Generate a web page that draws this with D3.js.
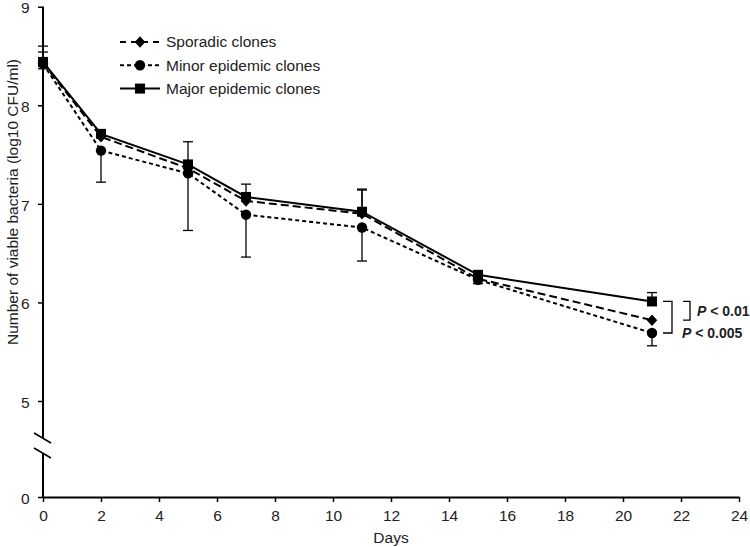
<!DOCTYPE html>
<html><head><meta charset="utf-8">
<script src="https://cdn.jsdelivr.net/npm/d3@7"></script>
<style>body{margin:0;background:#fff;} svg{display:block;font-family:"Liberation Sans",Arial,sans-serif;}</style>
</head><body>
<svg id="c" width="750" height="547"></svg>
<script>
const days = [0, 2, 5, 7, 11, 15, 21];
const sporadic = [8.43, 7.68, 7.36, 7.03, 6.90, 6.24, 5.82];
const minor = [8.42, 7.54, 7.31, 6.89, 6.76, 6.23, 5.69];
const major = [8.44, 7.71, 7.40, 7.07, 6.92, 6.28, 6.01];
const majorErrUp = [0.16, 0, 0.23, 0.13, 0.23, 0.04, 0.09];
const sporadicErrUp = [0.11, 0, 0, 0, 0.24, 0.03, 0];
const minorErrDown = [0.05, 0.32, 0.58, 0.43, 0.34, 0.04, 0.13];
const xTicks = [0, 2, 4, 6, 8, 10, 12, 14, 16, 18, 20, 22, 24];
const yTicks = [0, 5, 6, 7, 8, 9];
const seriesNames = ["Sporadic clones", "Minor epidemic clones", "Major epidemic clones"];
const pLabels = ["P < 0.01", "P < 0.005"];

const svg = d3.select("#c");
const x = d3.scaleLinear().domain([0, 24]).range([43, 739]);
const y = d3.scaleLinear().domain([0, 5, 9]).range([497, 401, 6.7]);
const FONT = "Liberation Sans, Arial, sans-serif";

const wideDiamond = {
  draw(ctx, size) {
    const r = Math.sqrt(size) / 2;
    ctx.moveTo(0, -r * 1.1); ctx.lineTo(r, 0); ctx.lineTo(0, r * 1.1); ctx.lineTo(-r, 0); ctx.closePath();
  }
};

// axes
const xAxis = d3.axisBottom(x).tickValues(xTicks).tickSize(5).tickSizeOuter(0).tickFormat(d3.format("d"));
const gx = svg.append("g").attr("transform", `translate(0,${y(0)})`).call(xAxis);
gx.select(".domain").attr("stroke", "#000").attr("stroke-width", 2);
gx.selectAll(".tick line").attr("stroke-width", 1.5);
gx.selectAll(".tick text").attr("font-size", 15.5).attr("dy", "1.0em").attr("fill", "#222").style("font-family", FONT);

const yAxis = d3.axisLeft(y).tickValues(yTicks).tickSize(5).tickSizeOuter(0).tickFormat(d3.format("d"));
const gy = svg.append("g").attr("transform", `translate(${x(0)},0)`).call(yAxis);
gy.select(".domain").remove();
gy.selectAll(".tick line").attr("stroke-width", 1.5);
gy.selectAll(".tick text").attr("font-size", 15.5).attr("dx", "-0.35em").attr("dy", "0.4em").attr("fill", "#222").style("font-family", FONT);
// y axis line with break
const x0 = x(0);
svg.append("line").attr("x1", x0).attr("x2", x0).attr("y1", y(9)).attr("y2", 438).attr("stroke", "#000").attr("stroke-width", 2);
svg.append("line").attr("x1", x0).attr("x2", x0).attr("y1", 453).attr("y2", y(0)).attr("stroke", "#000").attr("stroke-width", 2);
[433, 448].forEach(yy => {
  svg.append("line").attr("x1", x0 - 9).attr("x2", x0 + 8).attr("y1", yy).attr("y2", yy + 10).attr("stroke", "#000").attr("stroke-width", 1.5);
});

// axis titles
svg.append("text").attr("x", x(12)).attr("y", 543).attr("text-anchor", "middle").attr("font-size", 15.5).attr("fill", "#222").text("Days");
svg.append("text").attr("transform", "translate(13,202) rotate(-90)").attr("text-anchor", "middle").attr("dy", "0.35em").attr("font-size", 15.5).attr("fill", "#222").text("Number of viable bacteria (log10 CFU/ml)");

// error bars
function errBars(vals, errs, dir) {
  const cap = 5;
  days.forEach((d, i) => {
    if (!errs[i]) return;
    const v0 = vals[i], v1 = vals[i] + dir * errs[i];
    const g = svg.append("g").attr("stroke", "#000").attr("stroke-width", 1.3);
    g.append("line").attr("x1", x(d)).attr("x2", x(d)).attr("y1", y(v0)).attr("y2", y(v1));
    g.append("line").attr("x1", x(d) - cap).attr("x2", x(d) + cap).attr("y1", y(v1)).attr("y2", y(v1));
  });
}
errBars(major, majorErrUp, 1);
errBars(sporadic, sporadicErrUp, 1);
errBars(minor, minorErrDown, -1);

// lines
const line = d3.line().x((d, i) => x(days[i])).y(d => y(d));
const series = [
  {vals: minor, dash: "4,3", sym: d3.symbolCircle, size: 85},
  {vals: sporadic, dash: "8,4", sym: wideDiamond, size: 110},
  {vals: major, dash: null, sym: d3.symbolSquare, size: 100}
];
series.forEach(s => {
  svg.append("path").datum(s.vals).attr("d", line).attr("fill", "none").attr("stroke", "#000").attr("stroke-width", 2).attr("stroke-dasharray", s.dash);
});
series.forEach(s => {
  svg.selectAll(null).data(s.vals).enter().append("path")
    .attr("d", d3.symbol().type(s.sym).size(s.size))
    .attr("transform", (d, i) => `translate(${x(days[i])},${y(d)})`).attr("fill", "#000");
});

// legend
const leg = [
  {name: seriesNames[0], dash: "6,5", sym: wideDiamond, size: 110},
  {name: seriesNames[1], dash: "4,3", sym: d3.symbolCircle, size: 85},
  {name: seriesNames[2], dash: null, sym: d3.symbolSquare, size: 100}
];
leg.forEach((l, i) => {
  const yy = 42 + i * 23.3;
  svg.append("line").attr("x1", 120).attr("x2", 160).attr("y1", yy).attr("y2", yy).attr("stroke", "#000").attr("stroke-width", 2).attr("stroke-dasharray", l.dash);
  svg.append("path").attr("d", d3.symbol().type(l.sym).size(l.size)).attr("transform", `translate(140,${yy})`).attr("fill", "#000");
  svg.append("text").attr("x", 166).attr("y", yy).attr("dy", "0.35em").attr("font-size", 15.5).attr("fill", "#222").text(l.name);
});

// significance brackets
const xb = x(21);
const yMaj = y(major[6]), ySp = y(sporadic[6]), yMin = y(minor[6]);
svg.append("path").attr("d", `M${xb + 11},${yMaj} H${xb + 20} V${yMin} H${xb + 11}`).attr("fill", "none").attr("stroke", "#000").attr("stroke-width", 1.3);
svg.append("path").attr("d", `M${xb + 31},${yMaj} H${xb + 38} V${ySp} H${xb + 31}`).attr("fill", "none").attr("stroke", "#000").attr("stroke-width", 1.3);
function pText(xx, yy, label) {
  const t = svg.append("text").attr("x", xx).attr("y", yy).attr("dy", "0.35em").attr("font-size", 14).attr("font-weight", "bold").attr("fill", "#222");
  const parts = label.split(" ");
  t.append("tspan").attr("font-style", "italic").text(parts[0]);
  t.append("tspan").text(" " + parts.slice(1).join(" "));
}
pText(xb + 45, (yMaj + ySp) / 2, pLabels[0]);
pText(xb + 30, yMin, pLabels[1]);
</script>
</body></html>
